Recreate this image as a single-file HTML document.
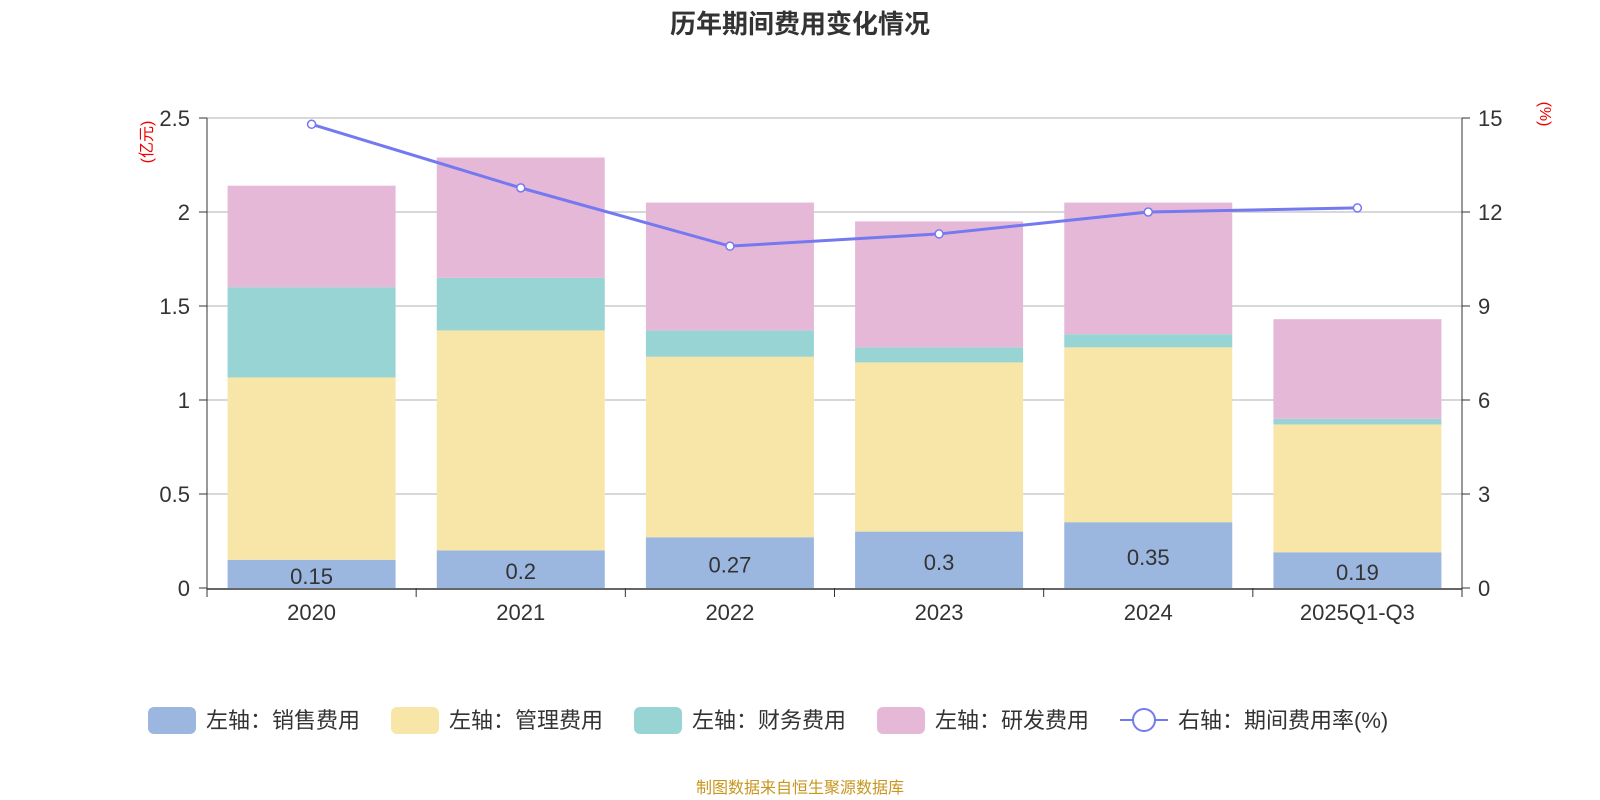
<!DOCTYPE html>
<html><head><meta charset="utf-8">
<style>
html,body{margin:0;padding:0;background:#fff;}
svg{display:block;font-family:"Liberation Sans","Noto Sans CJK SC",sans-serif;}
</style></head>
<body>
<svg id="chart" width="1600" height="800" viewBox="0 0 1600 800" xmlns="http://www.w3.org/2000/svg">
<text x="800" y="33" text-anchor="middle" font-size="26" font-weight="bold" fill="#333">历年期间费用变化情况</text>
<text transform="translate(152,142) rotate(-90)" text-anchor="middle" font-size="16" fill="#e00">(亿元)</text>
<text transform="translate(1540,114) rotate(90)" text-anchor="middle" font-size="16" fill="#e00">(%)</text>
<g id="grid"></g><g id="bars"></g><g id="axes"></g><g id="line"></g>
<g id="legend"></g>
<text x="800" y="793" text-anchor="middle" font-size="16" fill="#c8961e">制图数据来自恒生聚源数据库</text>
</svg>
<script>
const categories=["2020","2021","2022","2023","2024","2025Q1-Q3"];
const sales=[0.15,0.2,0.27,0.3,0.35,0.19];
const mgmt=[0.97,1.17,0.96,0.90,0.93,0.68];
const finance=[0.48,0.28,0.14,0.08,0.07,0.03];
const rnd=[0.54,0.64,0.68,0.67,0.70,0.53];
const rate=[14.8,12.77,10.91,11.3,12.0,12.13];
const leftTicks=[0,0.5,1,1.5,2,2.5];
const rightTicks=[0,3,6,9,12,15];
const NS="http://www.w3.org/2000/svg";
const x0=207,x1=1462,yb=588,yt=118;
const yL=v=>yb-(v/2.5)*(yb-yt);
const yR=v=>yb-(v/15)*(yb-yt);
const bw=(x1-x0)/categories.length;
const xc=i=>x0+bw*(i+0.5);
function mk(tag,attrs,parent){const e=document.createElementNS(NS,tag);for(const k in attrs)e.setAttribute(k,attrs[k]);document.getElementById(parent).appendChild(e);return e;}
leftTicks.forEach((t,i)=>{
  if(t>0){const g=mk("line",{x1:x0,x2:x1,y1:yL(t),y2:yL(t),stroke:"#ccc","stroke-width":1.5},"grid");
  
  }
  const tl=mk("text",{x:190,y:yL(t)+8,"text-anchor":"end","font-size":22,fill:"#333"},"axes");tl.textContent=t;
  
  
  mk("line",{x1:199,x2:207,y1:yL(t),y2:yL(t),stroke:"#333"},"axes");
  const r=rightTicks[i];
  const tr=mk("text",{x:1478,y:yR(r)+8,"font-size":22,fill:"#333"},"axes");tr.textContent=r;
  
  
  mk("line",{x1:1462,x2:1470,y1:yR(r),y2:yR(r),stroke:"#333"},"axes");
});
mk("line",{x1:x0,x2:x0,y1:yt,y2:yb,stroke:"#333"},"axes");
mk("line",{x1:x1,x2:x1,y1:yt,y2:yb,stroke:"#333"},"axes");
mk("line",{x1:x0,x2:x1,y1:yb+1,y2:yb+1,stroke:"#333","stroke-width":1.5},"axes");
for(let i=0;i<=categories.length;i++)mk("line",{x1:x0+bw*i,x2:x0+bw*i,y1:yb,y2:yb+9,stroke:"#333"},"axes");
const series=[[sales,"#9bb7e0","sales"],[mgmt,"#f7e6a8","management"],[finance,"#98d4d4","finance"],[rnd,"#e6b8d8","rnd"]];
categories.forEach((c,i)=>{
  let base=0;
  series.forEach(([arr,col,nm])=>{
    const r=mk("rect",{x:xc(i)-84,width:168,y:yL(base+arr[i]),height:yL(base)-yL(base+arr[i]),fill:col},"bars");
    
    
    base+=arr[i];
  });
  const lb=mk("text",{x:xc(i),y:(yL(0)+yL(sales[i]))/2+10,"text-anchor":"middle","font-size":22,fill:"#333"},"bars");lb.textContent=sales[i];
  
  
  const xl=mk("text",{x:xc(i),y:620,"text-anchor":"middle","font-size":22,fill:"#333"},"axes");xl.textContent=c;
  
  
});
const pl=mk("polyline",{points:rate.map((v,i)=>xc(i)+","+yR(v)).join(" "),fill:"none",stroke:"#7479f0","stroke-width":3},"line");


rate.forEach((v,i)=>{const p=mk("circle",{cx:xc(i),cy:yR(v),r:4,fill:"#fff",stroke:"#7479f0","stroke-width":1.5},"line");
  
  });
const leg=[["#9bb7e0","左轴：销售费用",148],["#f7e6a8","左轴：管理费用",391],["#98d4d4","左轴：财务费用",634],["#e6b8d8","左轴：研发费用",877]];
leg.forEach(([c,t,x])=>{
  const r=mk("rect",{x:x,y:707,width:48,height:27,rx:6,fill:c},"legend");
  
  
  const tx=mk("text",{x:x+58,y:728,"font-size":22,fill:"#333"},"legend");tx.textContent=t;
  
  
});
mk("line",{x1:1120,x2:1168,y1:720,y2:720,stroke:"#7479f0","stroke-width":2},"legend");
const lc=mk("circle",{cx:1144,cy:720,r:11,fill:"#fff",stroke:"#7479f0","stroke-width":2},"legend");


const lt=mk("text",{x:1178,y:728,"font-size":22,fill:"#333"},"legend");lt.textContent="右轴：期间费用率(%)";


</script>
</body></html>
